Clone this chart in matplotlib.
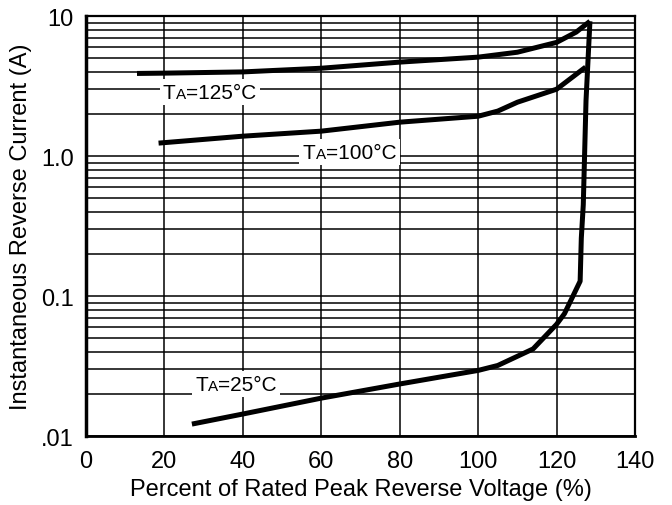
import matplotlib
matplotlib.use('Agg')
import matplotlib.pyplot as plt
from matplotlib.ticker import LogLocator, NullFormatter
from matplotlib.offsetbox import TextArea, HPacker, AnnotationBbox

plt.rcParams['font.family'] = ['Liberation Sans', 'DejaVu Sans']

# curves
x25 = [27, 40, 60, 80, 100, 105, 114, 120, 122, 126, 126.3, 126.8, 127.5, 128.5]
y25 = [0.0122, 0.0144, 0.0187, 0.0236, 0.0295, 0.032, 0.042, 0.063, 0.075, 0.128, 0.26, 0.45, 2.5, 9.2]

x100 = [18.5, 40, 60, 80, 100, 105, 110, 120, 127.4]
y100 = [1.24, 1.39, 1.51, 1.75, 1.93, 2.1, 2.43, 3.01, 4.33]

x125 = [13, 20, 40, 60, 80, 100, 110, 120, 125, 128.5]
y125 = [3.9, 3.92, 4.0, 4.25, 4.7, 5.1, 5.53, 6.5, 7.7, 9.2]

temps = ['125', '100', '25']
xticks = [0, 20, 40, 60, 80, 100, 120, 140]
yticks = [0.01, 0.1, 1.0, 10]
ylabels = ['.01', '0.1', '1.0', '10']

fig = plt.figure(figsize=(6.72, 5.06), dpi=100)
ax = fig.add_axes([0.128, 0.136, 0.817, 0.830])
ax.set_yscale('log')
ax.set_xlim(0, 140)
ax.set_ylim(0.01, 10)

ax.set_xticks(xticks)
ax.set_xticklabels([str(t) for t in xticks])
ax.set_yticks(yticks)
ax.set_yticklabels(ylabels)
ax.yaxis.set_minor_locator(LogLocator(base=10, subs=range(2, 10)))
ax.yaxis.set_minor_formatter(NullFormatter())
ax.xaxis.set_minor_locator(plt.NullLocator())

ax.grid(True, which='both', axis='y', color='black', lw=1.1)
ax.grid(True, which='major', axis='x', color='black', lw=1.1)

for xs, ys in [(x25, y25), (x100, y100), (x125, y125)]:
    ax.plot(xs, ys, color='black', lw=3.6, solid_capstyle='butt', solid_joinstyle='round', zorder=3)

ax.tick_params(axis='both', which='both', length=0, labelsize=17, colors='black')
ax.tick_params(axis='x', pad=10)
ax.tick_params(axis='y', pad=9)

for s in ax.spines.values():
    s.set_color('black')
    s.set_linewidth(1.6)
ax.spines['left'].set_linewidth(2.5)
ax.spines['bottom'].set_linewidth(2.0)

ax.set_xlabel('Percent of Rated Peak Reverse Voltage (%)', fontsize=17, labelpad=4)
ax.set_ylabel('Instantaneous Reverse Current (A)', fontsize=17, labelpad=6)

# temperature labels with small-cap subscript A
label_pos = [(31.5, 2.87), (67.2, 1.07), (38.2, 0.0235)]
for t, (lx, ly) in zip(temps, label_pos):
    box = HPacker(children=[TextArea('T', textprops=dict(fontsize=15)),
                            TextArea('A', textprops=dict(fontsize=11)),
                            TextArea('=' + t + '°C', textprops=dict(fontsize=15))],
                  align='baseline', pad=0, sep=0)
    ab = AnnotationBbox(box, (lx, ly), xycoords='data', frameon=True,
                        pad=0.25, zorder=4)
    ab.patch.set_edgecolor('none')
    ab.patch.set_facecolor('white')
    ax.add_artist(ab)

fig.savefig('out.png', dpi=100)
